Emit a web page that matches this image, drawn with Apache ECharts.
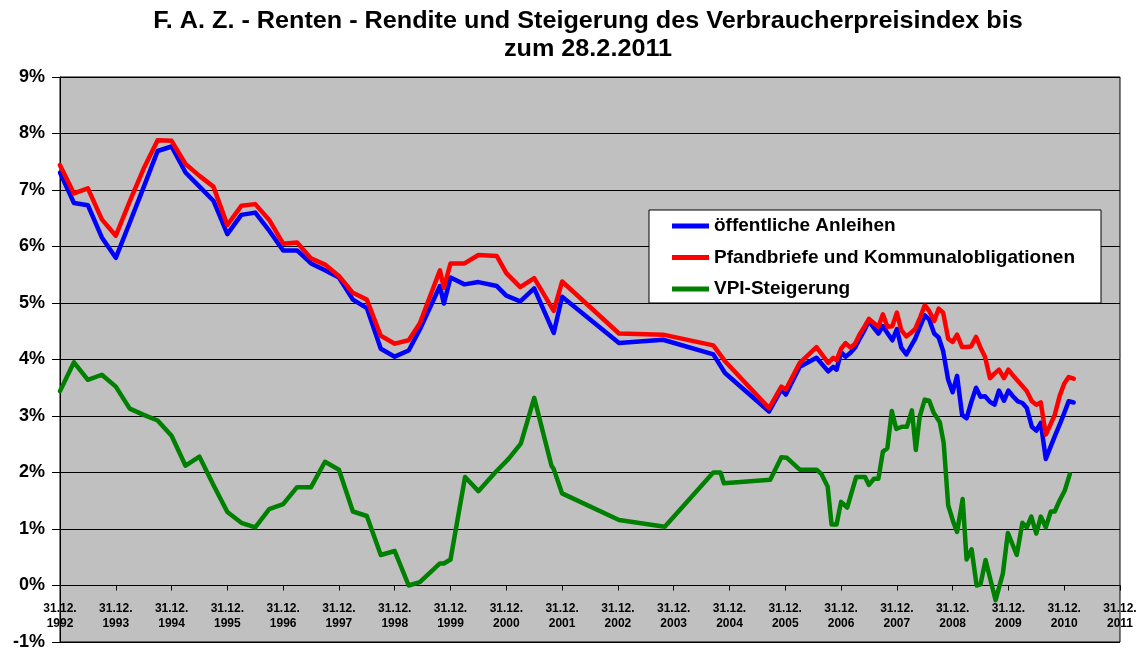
<!DOCTYPE html>
<html>
<head>
<meta charset="utf-8">
<script src="https://cdn.jsdelivr.net/npm/echarts@6/dist/echarts.min.js"></script>
<style>
  html, body { margin: 0; padding: 0; background: #fff; }
  #chart { width: 1141px; height: 649px; }
</style>
</head>
<body>
<div id="chart"></div>
<script>
'use strict';

// x values: years, 1992 = 31.12.1992
const bondDates = [
  1992.00, 1992.25, 1992.50, 1992.75, 1993.00, 1993.25, 1993.50, 1993.75,
  1994.00, 1994.25, 1994.50, 1994.75, 1995.00, 1995.25, 1995.50, 1995.75,
  1996.00, 1996.25, 1996.50, 1996.75, 1997.00, 1997.25, 1997.50, 1997.75,
  1998.00, 1998.25, 1998.45, 1998.81, 1998.88, 1999.00, 1999.25, 1999.50,
  1999.83, 2000.00, 2000.25, 2000.50, 2000.85, 2001.00, 2002.02, 2002.81,
  2003.71, 2003.92, 2004.71, 2004.93, 2005.01, 2005.26, 2005.56, 2005.77,
  2005.86, 2005.92,
  2006.00, 2006.08, 2006.17, 2006.25, 2006.33, 2006.42, 2006.50, 2006.58, 2006.67, 2006.75, 2006.83, 2006.92,
  2007.00, 2007.08, 2007.17, 2007.25, 2007.33, 2007.42, 2007.50, 2007.58, 2007.67, 2007.75, 2007.83, 2007.92,
  2008.00, 2008.08, 2008.17, 2008.25, 2008.33, 2008.42, 2008.50, 2008.58, 2008.67, 2008.75, 2008.83, 2008.92,
  2009.00, 2009.08, 2009.17, 2009.25, 2009.33, 2009.42, 2009.50, 2009.58, 2009.67, 2009.75, 2009.83, 2009.92,
  2010.00, 2010.08, 2010.17
];

const oeffentlicheAnleihen = [
  7.31, 6.77, 6.73, 6.16, 5.80, 6.42, 7.05, 7.69,
  7.77, 7.31, 7.06, 6.81, 6.22, 6.56, 6.60, 6.28,
  5.93, 5.93, 5.70, 5.58, 5.45, 5.06, 4.91, 4.19,
  4.05, 4.16, 4.53, 5.30, 4.99, 5.45, 5.33, 5.37,
  5.30, 5.13, 5.03, 5.26, 4.47, 5.11, 4.29, 4.35,
  4.09, 3.76, 3.08, 3.47, 3.38, 3.87, 4.03, 3.79,
  3.87, 3.82,
  4.13, 4.05, 4.12, 4.21, 4.36, 4.52, 4.68, 4.57, 4.46, 4.59, 4.47, 4.34,
  4.54, 4.21, 4.09, 4.23, 4.37, 4.59, 4.78, 4.71, 4.46, 4.39, 4.15, 3.64,
  3.42, 3.71, 3.02, 2.96, 3.23, 3.50, 3.34, 3.35, 3.25, 3.20, 3.45, 3.27,
  3.45, 3.35, 3.26, 3.23, 3.14, 2.81, 2.74, 2.88, 2.24, 2.44, 2.64, 2.85,
  3.05, 3.26, 3.24
];

const pfandbriefe = [
  7.44, 6.94, 7.03, 6.48, 6.19, 6.80, 7.38, 7.88,
  7.87, 7.46, 7.25, 7.06, 6.38, 6.72, 6.75, 6.47,
  6.05, 6.07, 5.79, 5.68, 5.48, 5.18, 5.06, 4.42,
  4.28, 4.34, 4.64, 5.58, 5.27, 5.70, 5.70, 5.85,
  5.83, 5.53, 5.28, 5.44, 4.86, 5.38, 4.46, 4.44,
  4.25, 3.97, 3.14, 3.52, 3.47, 3.94, 4.22, 3.94,
  4.03, 3.99,
  4.19, 4.29, 4.21, 4.28, 4.44, 4.58, 4.72, 4.65, 4.58, 4.80, 4.58, 4.59,
  4.83, 4.52, 4.41, 4.47, 4.54, 4.75, 4.96, 4.86, 4.68, 4.90, 4.83, 4.37,
  4.31, 4.44, 4.22, 4.22, 4.23, 4.40, 4.21, 4.05, 3.67, 3.75, 3.82, 3.67,
  3.82, 3.72, 3.62, 3.53, 3.44, 3.26, 3.20, 3.24, 2.67, 2.84, 3.02, 3.36,
  3.57, 3.69, 3.66
];

const vpiDates = [
  1992.00, 1992.25, 1992.50, 1992.75, 1993.00, 1993.25, 1993.50, 1993.75,
  1994.00, 1994.25, 1994.50, 1994.75, 1995.00, 1995.25, 1995.50, 1995.75,
  1996.00, 1996.25, 1996.50, 1996.75, 1997.00, 1997.25, 1997.50, 1997.75,
  1998.00, 1998.25, 1998.45, 1998.81, 1998.88, 1999.00, 1999.26, 1999.50,
  1999.80, 2000.04, 2000.26, 2000.50, 2000.81, 2000.85, 2001.00, 2002.02,
  2002.84, 2003.71, 2003.84, 2003.90, 2004.73, 2004.93, 2005.03, 2005.26,
  2005.56, 2005.65, 2005.76, 2005.83, 2005.92, 2006.00, 2006.11, 2006.27,
  2006.43, 2006.50, 2006.59, 2006.67, 2006.75, 2006.83, 2006.91, 2006.99,
  2007.09, 2007.18, 2007.27, 2007.34, 2007.41, 2007.50, 2007.58, 2007.66,
  2007.77, 2007.84, 2007.92, 2008.01, 2008.08, 2008.18, 2008.25, 2008.34,
  2008.43, 2008.50, 2008.59, 2008.77, 2008.90, 2008.99, 2009.15, 2009.25,
  2009.33, 2009.41, 2009.50, 2009.58, 2009.67, 2009.76, 2009.83, 2009.92,
  2010.01, 2010.10
];

const vpiSteigerung = [
  3.44, 3.95, 3.64, 3.73, 3.52, 3.13, 3.02, 2.92,
  2.65, 2.12, 2.28, 1.78, 1.30, 1.11, 1.03, 1.35,
  1.44, 1.74, 1.74, 2.19, 2.05, 1.31, 1.23, 0.54,
  0.61, 0.00, 0.06, 0.39, 0.39, 0.46, 1.92, 1.67,
  2.00, 2.24, 2.51, 3.32, 2.12, 2.06, 1.63, 1.16,
  1.04, 2.00, 2.00, 1.81, 1.87, 2.27, 2.26, 2.05,
  2.05, 1.97, 1.75, 1.08, 1.08, 1.48, 1.38, 1.92,
  1.92, 1.78, 1.89, 1.89, 2.37, 2.43, 3.09, 2.77,
  2.81, 2.81, 3.10, 2.40, 2.99, 3.29, 3.27, 3.06,
  2.89, 2.52, 1.42, 1.13, 0.95, 1.53, 0.46, 0.64,
  0.00, 0.02, 0.45, -0.26, 0.21, 0.93, 0.54, 1.11,
  1.03, 1.22, 0.92, 1.22, 1.03, 1.31, 1.31, 1.51,
  1.68, 1.97
];

const titleText = 'F. A. Z. - Renten - Rendite und Steigerung des Verbraucherpreisindex bis\nzum 28.2.2011';
const seriesNames = ['öffentliche Anleihen', 'Pfandbriefe und Kommunalobligationen', 'VPI-Steigerung'];

const FONT = 'Arial, "Liberation Sans", sans-serif';

function zip(xs, ys) {
  return xs.map((x, i) => [x, ys[i]]);
}

function lineSeries(name, color, data) {
  return {
    name: name,
    type: 'line',
    data: data,
    symbol: 'none',
    color: color,
    lineStyle: { color: color, width: 4.5, join: 'round', cap: 'round' },
    emphasis: { disabled: true },
    animation: false
  };
}

const chart = echarts.init(document.getElementById('chart'), null, { renderer: 'canvas' });

chart.setOption({
  backgroundColor: '#ffffff',
  animation: false,
  graphic: [{
    type: 'text',
    x: 588,
    y: 35,
    scaleX: 1.05,
    style: {
      text: titleText,
      fill: '#000',
      font: 'bold 24px ' + FONT,
      lineHeight: 28,
      align: 'center',
      verticalAlign: 'middle'
    }
  }],
  grid: {
    left: 60, right: 21, top: 77, bottom: 7,
    show: true,
    backgroundColor: '#C0C0C0',
    borderColor: '#000',
    borderWidth: 1,
    outerBoundsMode: 'none'
  },
  legend: {
    data: seriesNames.map(n => ({ name: n, icon: 'rect' })),
    orient: 'vertical',
    left: 649,
    top: 210,
    itemWidth: 37,
    itemHeight: 5,
    itemGap: 12.5,
    padding: [6.5, 26, 4.5, 23],
    backgroundColor: '#ffffff',
    borderColor: '#000',
    borderWidth: 1,
    borderRadius: 0,
    selectedMode: false,
    textStyle: { color: '#000', fontFamily: FONT, fontWeight: 'bold', fontSize: 19 }
  },
  xAxis: {
    type: 'value',
    min: 1992,
    max: 2011,
    interval: 1,
    axisLine: { onZero: true, lineStyle: { color: '#000', width: 1 } },
    axisTick: { show: true, length: 5, lineStyle: { color: '#000' } },
    splitLine: { show: false },
    // labels are laid out from the grid bottom (-1%), pull them up under the 0% line
    axisLabel: {
      show: true,
      formatter: v => '31.12.\n' + v,
      color: '#000',
      fontFamily: FONT,
      fontWeight: 'bold',
      fontSize: 12,
      lineHeight: 15,
      margin: -41
    }
  },
  yAxis: {
    type: 'value',
    min: -1,
    max: 9,
    interval: 1,
    axisLine: { show: true, lineStyle: { color: '#000', width: 1 } },
    axisTick: { show: true, length: 8, lineStyle: { color: '#000' } },
    splitLine: { show: true, lineStyle: { color: '#000', width: 1 } },
    axisLabel: {
      formatter: v => v + '%',
      color: '#000',
      fontFamily: FONT,
      fontWeight: 'bold',
      fontSize: 18,
      margin: 15
    }
  },
  series: [
    lineSeries(seriesNames[0], '#0000FF', zip(bondDates, oeffentlicheAnleihen)),
    lineSeries(seriesNames[1], '#FF0000', zip(bondDates, pfandbriefe)),
    lineSeries(seriesNames[2], '#008000', zip(vpiDates, vpiSteigerung))
  ]
});
</script>
</body>
</html>
